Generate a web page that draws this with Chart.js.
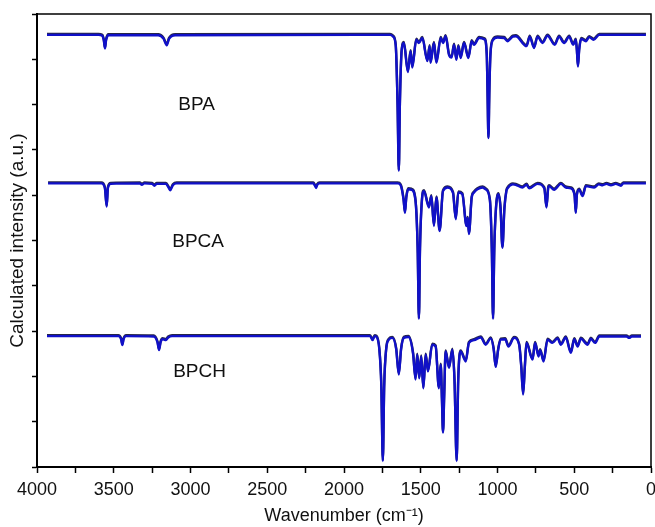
<!DOCTYPE html>
<html>
<head>
<meta charset="utf-8">
<script src="https://cdn.jsdelivr.net/npm/chart.js@4/dist/chart.umd.min.js"></script>
<style>
  html, body { margin: 0; padding: 0; background: #fff; }
  #wrap { width: 655px; height: 527px; }
</style>
</head>
<body>
<div id="wrap"><canvas id="irChart" width="655" height="527"></canvas></div>
<script>
// spectra: [wavenumber, offset intensity]
const bpaPoints = [
  [3935, 9.54], [3600, 9.54], [3575, 9.52], [3565, 9.42], [3557, 9.24], [3550, 9.42], [3535, 9.53],
  [3210, 9.53], [3175, 9.45], [3155, 9.31], [3140, 9.45], [3100, 9.53],
  [1700, 9.54], [1680, 9.50], [1663, 9.30], [1651, 8.00], [1643, 6.54], [1636, 8.00], [1624, 9.20],
  [1610, 9.36], [1584, 8.72], [1566, 9.18], [1555, 8.82], [1529, 9.43], [1512, 9.36], [1490, 9.47],
  [1457, 8.96], [1442, 9.29], [1436, 8.92], [1414, 9.36], [1398, 8.92], [1370, 9.47], [1355, 9.36],
  [1338, 9.51], [1316, 9.10], [1299, 9.04], [1283, 9.32], [1268, 8.99], [1255, 9.29], [1240, 9.03],
  [1218, 9.36], [1190, 9.03], [1168, 9.40], [1153, 9.32], [1120, 9.47], [1085, 9.44], [1070, 9.10],
  [1065, 8.30], [1059, 7.26], [1053, 8.30], [1046, 9.10], [1030, 9.42], [1000, 9.48], [957, 9.47],
  [935, 9.40], [900, 9.50], [881, 9.51], [811, 9.29], [790, 9.50], [762, 9.25], [739, 9.50],
  [707, 9.36], [674, 9.52], [627, 9.32], [599, 9.50], [566, 9.36], [533, 9.50], [507, 9.32],
  [490, 9.43], [483, 9.20], [476, 8.84], [468, 9.20], [455, 9.45], [424, 9.40], [403, 9.49],
  [374, 9.43], [337, 9.54], [33, 9.54]
];

const bpcaPoints = [
  [3928, 6.26], [3580, 6.26], [3558, 6.16], [3546, 5.75], [3538, 6.16], [3520, 6.25],
  [3330, 6.26], [3317, 6.23], [3300, 6.26], [3250, 6.25], [3235, 6.21], [3220, 6.25],
  [3160, 6.25], [3140, 6.15], [3132, 6.11], [3115, 6.22], [3090, 6.26],
  [2200, 6.26], [2188, 6.20], [2182, 6.16], [2175, 6.22], [2160, 6.26],
  [1650, 6.26], [1631, 6.22], [1612, 5.90], [1603, 5.61], [1594, 5.95], [1581, 6.13], [1560, 6.12],
  [1535, 5.90], [1520, 4.80], [1512, 3.27], [1505, 4.80], [1492, 5.90], [1479, 6.09], [1447, 5.73],
  [1431, 5.98], [1414, 5.32], [1398, 5.95], [1377, 5.21], [1355, 6.09], [1325, 6.17], [1290, 6.05],
  [1272, 5.47], [1255, 6.06], [1229, 6.02], [1202, 5.32], [1194, 5.50], [1186, 5.14], [1168, 5.95],
  [1153, 6.06], [1131, 6.13], [1098, 6.17], [1077, 6.13], [1050, 5.90], [1037, 4.80], [1029, 3.27],
  [1021, 4.80], [1010, 5.70], [994, 6.02], [980, 5.70], [968, 4.84], [955, 5.70], [942, 6.09],
  [935, 6.15], [900, 6.24], [881, 6.23], [838, 6.17], [811, 6.23], [794, 6.15], [739, 6.25],
  [695, 6.15], [681, 5.73], [670, 6.15], [664, 6.20], [631, 6.12], [587, 6.25], [555, 6.17],
  [522, 6.15], [498, 6.00], [490, 5.61], [483, 6.00], [468, 6.12], [446, 5.98], [424, 6.20],
  [370, 6.17], [340, 6.24], [315, 6.22], [290, 6.25], [261, 6.22], [230, 6.25], [196, 6.21],
  [180, 6.26], [33, 6.26]
];

const bpchPoints = [
  [3935, 2.89], [3470, 2.89], [3452, 2.82], [3444, 2.69], [3436, 2.82], [3420, 2.89],
  [3240, 2.88], [3215, 2.75], [3205, 2.58], [3195, 2.75], [3182, 2.82], [3160, 2.80], [3145, 2.86],
  [3120, 2.89], [1830, 2.89], [1814, 2.80], [1800, 2.89], [1790, 2.88], [1770, 2.60], [1757, 1.80],
  [1747, 0.13], [1738, 1.80], [1725, 2.60], [1708, 2.81], [1685, 2.85], [1660, 2.60], [1643, 2.04],
  [1628, 2.60], [1610, 2.85], [1580, 2.87], [1550, 2.50], [1534, 1.93], [1523, 2.48], [1510, 1.96],
  [1497, 2.44], [1483, 1.74], [1468, 2.48], [1453, 2.11], [1425, 2.70], [1403, 2.66], [1382, 1.74],
  [1370, 2.26], [1362, 1.50], [1355, 0.76], [1347, 1.60], [1338, 2.55], [1316, 2.19], [1294, 2.59],
  [1280, 1.90], [1266, 0.13], [1256, 1.90], [1240, 2.55], [1207, 2.33], [1186, 2.74], [1153, 2.80],
  [1109, 2.86], [1077, 2.70], [1044, 2.84], [1025, 2.60], [1012, 2.21], [995, 2.60], [979, 2.81],
  [950, 2.82], [929, 2.66], [892, 2.85], [859, 2.70], [845, 2.20], [833, 1.60], [822, 2.20],
  [811, 2.74], [772, 2.37], [755, 2.74], [733, 2.44], [722, 2.58], [700, 2.33], [674, 2.81],
  [642, 2.74], [609, 2.84], [587, 2.70], [555, 2.86], [522, 2.52], [500, 2.82], [478, 2.66],
  [457, 2.83], [413, 2.70], [392, 2.83], [364, 2.74], [337, 2.88], [160, 2.88], [142, 2.85],
  [125, 2.88], [65, 2.88]
];

const seriesNames = ['BPA', 'BPCA', 'BPCH'];
const labelWn = [3080, 3119, 3113];
const labelY = [7.99, 4.97, 2.10];

const xTicksMajor = 500;
const xTicksMinor = 250;

const FONT = '"Liberation Sans", Arial, Helvetica, sans-serif';
const lineBlue = '#1010c8';

function toXY(points) {
  return points.map(p => ({ x: p[0], y: p[1] }));
}

// dark edge on top of the blue traces, like the original plot
const edgePlugin = {
  id: 'edge',
  beforeDatasetsDraw(chart) {
    const c = chart.ctx;
    c.save();
    c.shadowColor = 'rgba(0, 0, 40, 0.85)';
    c.shadowOffsetX = 0;
    c.shadowOffsetY = -1;
    c.shadowBlur = 0;
  },
  afterDatasetsDraw(chart) {
    chart.ctx.restore();
  }
};

// box frame + trace names
const framePlugin = {
  id: 'frame',
  afterDraw(chart) {
    const { ctx, chartArea: a, scales } = chart;
    ctx.save();
    ctx.strokeStyle = '#000';
    ctx.lineWidth = 1.5;
    ctx.strokeRect(a.left, a.top, a.right - a.left, a.bottom - a.top);
    ctx.fillStyle = '#111';
    ctx.font = '19px ' + FONT;
    ctx.textAlign = 'left';
    ctx.textBaseline = 'middle';
    seriesNames.forEach((name, i) => {
      ctx.fillText(name, scales.x.getPixelForValue(labelWn[i]), scales.y.getPixelForValue(labelY[i]));
    });
    ctx.restore();
  }
};

const ctx = document.getElementById('irChart').getContext('2d');
new Chart(ctx, {
  type: 'line',
  data: {
    datasets: [bpaPoints, bpcaPoints, bpchPoints].map((pts, i) => ({
      label: seriesNames[i],
      data: toXY(pts),
      borderColor: lineBlue,
      borderWidth: 2.4,
      pointRadius: 0,
      fill: false,
      cubicInterpolationMode: 'monotone'
    }))
  },
  options: {
    responsive: false,
    animation: false,
    layout: { padding: { top: 14, right: 4, left: 0, bottom: 0 } },
    plugins: {
      legend: { display: false },
      tooltip: { enabled: false }
    },
    scales: {
      x: {
        type: 'linear',
        reverse: true,
        min: 0,
        max: 4000,
        afterFit: s => { s.height = 60; s.paddingLeft = 0; s.paddingRight = 0; },
        ticks: {
          stepSize: xTicksMinor,
          autoSkip: false,
          maxRotation: 0,
          padding: 6,
          color: '#111',
          font: { family: FONT, size: 18 },
          callback: v => (v % xTicksMajor === 0 ? String(v) : '')
        },
        grid: { drawOnChartArea: false, tickLength: 6, tickColor: '#000', tickWidth: 1.5 },
        border: { display: true, color: '#000', width: 2 },
        title: {
          display: true,
          text: 'Wavenumber (cm\u207B\u00B9)',
          color: '#111',
          font: { family: FONT, size: 18 },
          padding: { top: 0, bottom: 0 }
        }
      },
      y: {
        min: 0,
        max: 10,
        afterFit: s => { s.width = 37; },
        ticks: { stepSize: 1, callback: () => '' },
        grid: { drawOnChartArea: false, tickLength: 5, tickColor: '#000', tickWidth: 1.5 },
        border: { display: true, color: '#000', width: 2 },
        title: {
          display: true,
          text: 'Calculated intensity (a.u.)',
          color: '#111',
          font: { family: FONT, size: 19 },
          padding: { top: 6, bottom: 0 }
        }
      }
    }
  },
  plugins: [edgePlugin, framePlugin]
});
</script>
</body>
</html>
